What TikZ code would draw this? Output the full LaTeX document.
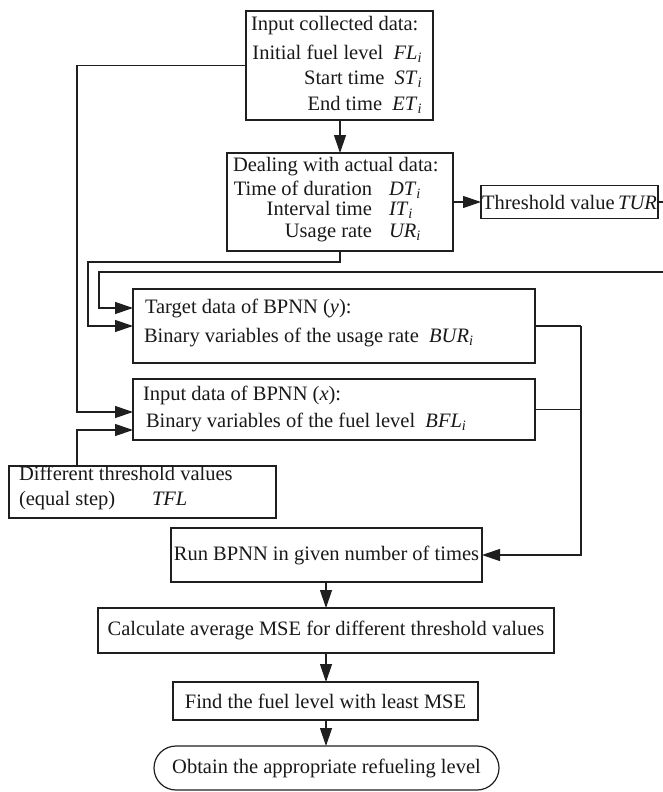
\documentclass[tikz,border=0pt]{standalone}
\usepackage{fontspec}
\setmainfont{Liberation Serif}
\usetikzlibrary{arrows.meta}
\newcommand\sym[2]{\textit{#1}\textsubscript{\textit{#2}}}
\begin{document}
\begin{tikzpicture}[x=1pt,y=-1pt,
  every node/.style={font=\fontsize{20.5}{24}\selectfont, inner sep=0pt, outer sep=0pt},
  box/.style={draw=black!88, line width=1.2pt, rectangle},
  line/.style={draw=black!88, line width=1.2pt},
  arr/.style={line, -{Triangle[length=18pt,width=12pt]}},
  txt/.style={text=black!90}
]
\useasboundingbox[fill=white] (0,0) rectangle (662,792);

% boxes
\node[box, minimum width=187pt, minimum height=109pt] (b1) at (339.5,65.5) {};
\node[box, minimum width=226pt, minimum height=98pt] (b2) at (340,202) {};
\node[box, minimum width=177pt, minimum height=33pt, txt] (thr) at (569.5,202) {Threshold value\,\textit{TUR}};
\node[box, minimum width=402pt, minimum height=74pt] (tgt) at (334,326) {};
\node[box, minimum width=402pt, minimum height=61pt] (inp) at (334,409.5) {};
\node[box, minimum width=267pt, minimum height=52pt] (tfl) at (142.5,492) {};
\node[box, minimum width=311pt, minimum height=54pt, txt] (run) at (326.5,555) {Run BPNN in given number of times};
\node[box, minimum width=456pt, minimum height=45pt, txt] (calc) at (326,630.5) {Calculate average MSE for different threshold values};
\node[box, minimum width=305pt, minimum height=38pt, txt] (find) at (325.5,701) {Find the fuel level with least MSE};
\node[box, minimum width=345pt, minimum height=44pt, rounded corners=22pt, txt] (obt) at (326.5,768) {Obtain the appropriate refueling level};

% texts box 1
\node[txt, anchor=mid west] (t11) at (251,28) {Input collected data:};
\node[txt, anchor=mid east] (t12) at (422,57) {Initial fuel level\ \ \sym{FL}{i}};
\node[txt, anchor=mid east] (t13) at (422,82) {Start time\ \ \sym{ST}{i}};
\node[txt, anchor=mid east] (t14) at (422,108) {End time\ \ \sym{ET}{i}};
% texts box 2
\node[txt, anchor=mid west] (t21) at (233,169) {Dealing with actual data:};
\node[txt, anchor=mid east] (t22) at (372,193) {Time of duration};
\node[txt, anchor=mid east] (t23) at (372,213) {Interval time};
\node[txt, anchor=mid east] (t24) at (372,235) {Usage rate};
\node[txt, anchor=mid west] (s22) at (389,193) {\sym{DT}{i}};
\node[txt, anchor=mid west] (s23) at (389,213) {\sym{IT}{i}};
\node[txt, anchor=mid west] (s24) at (389,235) {\sym{UR}{i}};
% target box
\node[txt, anchor=mid west] (t31) at (145,311) {Target data of BPNN (\textit{y}):};
\node[txt, anchor=mid west] (t32) at (144,340) {Binary variables of the usage rate\ \ \sym{BUR}{i}};
% input box
\node[txt, anchor=mid west] (t41) at (143,398) {Input data of BPNN (\textit{x}):};
\node[txt, anchor=mid west] (t42) at (146,425) {Binary variables of the fuel level\ \ \sym{BFL}{i}};
% tfl box
\node[txt, anchor=mid west] (t51) at (19,478) {Different threshold values};
\node[txt, anchor=mid west] (t52) at (19,503) {(equal step)};
\node[txt, anchor=mid west] (s52) at (152,503) {\textit{TFL}};

% coordinates
\coordinate (L1) at (77,412);
\coordinate (L2a) at (340,262);
\coordinate (L2b) at (88,326);
\coordinate (R1) at (664.5,202);
\coordinate (R2) at (99,272);
\coordinate (R3) at (99,308);
\coordinate (M1) at (581,326);
\coordinate (M2) at (581,555);
\coordinate (T1) at (77,430);

% connectors
\draw[arr] (b1.south -| 340,0) -- (b2.north -| 340,0);
\draw[arr] (b2.east) -- (thr.west);
\draw[arr] (b1.west) -| (L1) -- (L1 -| inp.west);
\draw[arr] (b2.south -| L2a) -- (L2a) -| (L2b) -- (L2b -| tgt.west);
\draw[arr] (thr.east) -- (R1) |- (R2) -- (R3) -- (R3 -| tgt.west);
\draw[line] (tgt.east) -- (M1);
\draw[line] (inp.east) -- (inp.east -| M1);
\draw[arr] (M1) -- (M2) -- (run.east);
\draw[arr] (tfl.north -| T1) -- (T1) -- (T1 -| inp.west);
\draw[arr] (run.south -| 326,0) -- (calc.north -| 326,0);
\draw[arr] (calc.south -| 326,0) -- (find.north -| 326,0);
\draw[arr] (find.south -| 326,0) -- (obt.north -| 326,0);
\end{tikzpicture}
\end{document}
